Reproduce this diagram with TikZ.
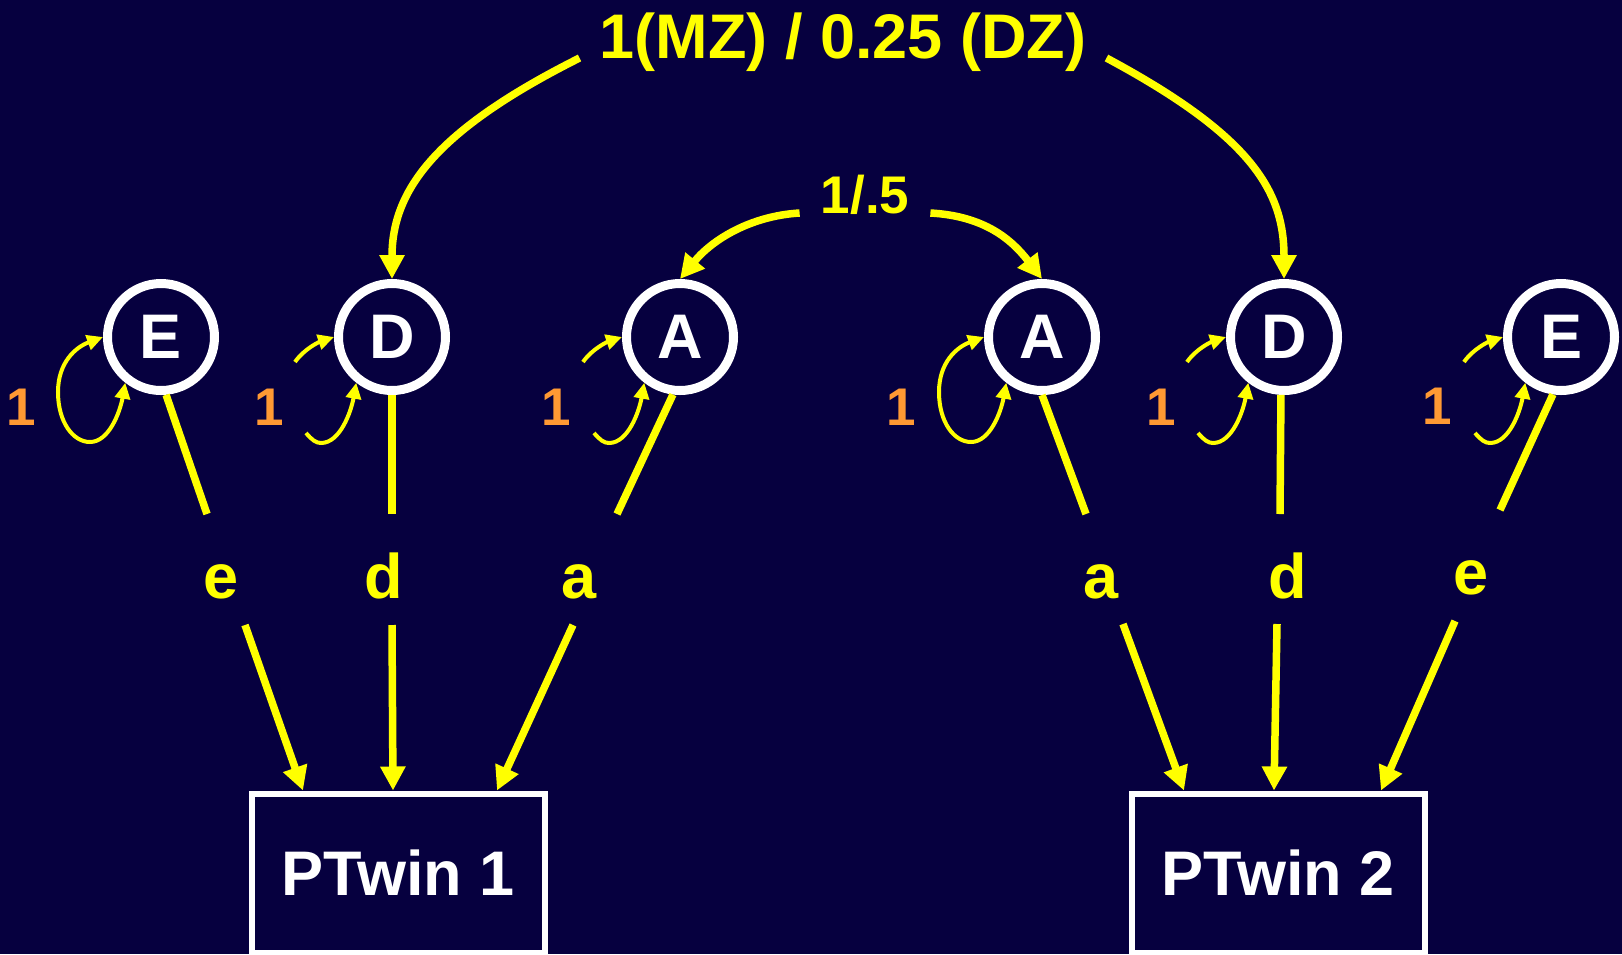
\documentclass[tikz,border=0pt]{standalone}
\usepackage{fontspec}
\setmainfont{Liberation Sans}
\usetikzlibrary{arrows.meta}

\definecolor{fond}{HTML}{06003F}
\definecolor{jaune}{HTML}{FFFF00}
\definecolor{orangeun}{HTML}{FF9933}
\newcommand{\policeG}{\fontsize{63}{70}\selectfont\bfseries}
\newcommand{\policeP}{\fontsize{53}{60}\selectfont\bfseries}

\begin{document}
\begin{tikzpicture}  % ------ Le modele ADE des jumeaux -----------------------------
      [x=1pt,y=-1pt,
       latente/.style={circle,draw=white,line width=9pt,minimum size=107pt,inner sep=0pt,text=white,font=\policeG},
       mesure/.style={draw=white,line width=6pt,minimum width=293pt,minimum height=159pt,inner sep=0pt,text=white,font=\fontsize{63}{70}\selectfont\bfseries},
       coef/.style={text=jaune,font=\policeG,anchor=base,inner sep=0pt},
       un/.style={text=orangeun,font=\policeP,anchor=base,inner sep=0pt},
       trait/.style={jaune,line width=7.5pt},
       fleche/.style={trait,-{Triangle[length=24pt,width=24pt]}},
       boucle/.style={jaune,line width=4pt,>={Triangle[length=16pt,width=15pt]}}]

    \useasboundingbox (0,0) rectangle (1622,954);
    \fill[fond] (0,0) rectangle (1622,954);

    % les facteurs latents
    \node[latente] (E1) at (161,337) {E};
    \node[latente] (D1) at (392,337) {D};
    \node[latente] (A1) at (680,337) {A};
    \node[latente] (A2) at (1042,337) {A};
    \node[latente] (D2) at (1284,337) {D};
    \node[latente] (E2) at (1561,337) {E};

    % les deux jumeaux
    \node[mesure] (P1) at (398,873) {PTwin 1};
    \node[mesure] (P2) at (1278,873) {PTwin 2};

    % coefficients
    \node[coef] (e1) at (221,598) {e};
    \node[coef] (d1) at (384,598) {d};
    \node[coef] (a1) at (579,598) {a};
    \node[coef] (a2) at (1101,598) {a};
    \node[coef] (d2) at (1288,598) {d};
    \node[coef] (e2) at (1471,594) {e};

    % variances
    \node[un] (u1) at (21,425) {1};
    \node[un] (u2) at (269,425) {1};
    \node[un] (u3) at (556,425) {1};
    \node[un] (u4) at (901,425) {1};
    \node[un] (u5) at (1161,425) {1};
    \node[un] (u6) at (1437,424) {1};

    % correlations
    \node[coef,inner sep=20pt] (corD) at (843,58) {1(MZ) / 0.25 (DZ)};
    \node[coef,font=\policeP,inner sep=21pt] (corA) at (865,213) {1/.5};

    \coordinate (e1h) at (207,514);   \coordinate (e1b) at (245,625);
    \coordinate (d1h) at (392,514);   \coordinate (d1b) at (392,625);
    \coordinate (a1h) at (617,514);   \coordinate (a1b) at (573,625);
    \coordinate (a2h) at (1086,514);  \coordinate (a2b) at (1123,624);
    \coordinate (d2h) at (1280,514);  \coordinate (d2b) at (1277,624);
    \coordinate (e2h) at (1500,510);  \coordinate (e2b) at (1455,621);

    \draw[trait] (E1.-85) -- (e1h);  \draw[fleche] (e1b) -- ([xshift=-95pt]P1.north);
    \draw[trait] (D1.south) -- (d1h); \draw[fleche] (d1b) -- ([xshift=-5pt]P1.north);
    \draw[trait] (A1.-97) -- (a1h);  \draw[fleche] (a1b) -- ([xshift=99pt]P1.north);
    \draw[trait] (A2.-90) -- (a2h);  \draw[fleche] (a2b) -- ([xshift=-94pt]P2.north);
    \draw[trait] (D2.-93) -- (d2h);  \draw[fleche] (d2b) -- ([xshift=-4pt]P2.north);
    \draw[trait] (E2.-98) -- (e2h);  \draw[fleche] (e2b) -- ([xshift=103pt]P2.north);

    \draw[fleche] (corD.base west) .. controls (436,130) and (392,190) .. (D1.north);
    \draw[fleche] (corD.base east) .. controls (1250,135) and (1284,190) .. (D2.north);
    \draw[fleche] (corA.base west) .. controls (750,216) and (712,240) .. (A1.north);
    \draw[fleche] (corA.base east) .. controls (985,216) and (1012,240) .. (A2.north);

    % boucles de variance
    \foreach \n in {E1,A2}{
      \begin{scope}[shift={(\n)}]
        \draw[boucle,<->] (\n.180) .. controls (-85,10) and (-103,25) .. (-103,55)
            .. controls (-103,85) and (-88,105) .. (-71,105)
            .. controls (-52,105) and (-41,75) .. (\n.232);
      \end{scope}
    }
    \foreach \n in {D1,A1,D2,E2}{
      \begin{scope}[shift={(\n)}]
        \draw[boucle,->] (-97,25) .. controls (-88,12) and (-73,5) .. (\n.180);
        \draw[boucle,->] (-86,96) .. controls (-80,103) and (-76,106) .. (-71,106)
            .. controls (-52,106) and (-41,75) .. (\n.232);
      \end{scope}
    }

\end{tikzpicture}
\end{document}
